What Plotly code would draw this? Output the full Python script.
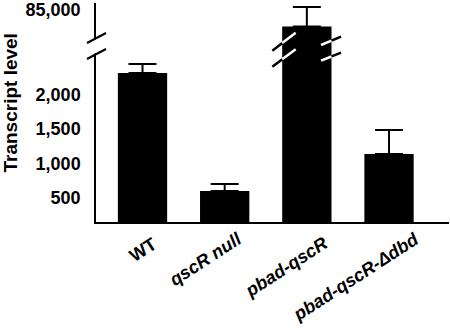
import plotly.graph_objects as go

# ---- data ----
categories = ["WT", "qscR null", "pbad-qscR", "pbad-qscR-Δdbd"]
label_texts = ["<b>WT</b>", "<b><i>qscR null</i></b>", "<b><i>pbad-qscR</i></b>", "<b><i>pbad-qscR-Δdbd</i></b>"]
values = [2320, 595, 81700, 1137]
errors = [135, 103, 3900, 350]
lower_ticks = [500, 1000, 1500, 2000]
upper_ticks = [85000]

# ---- style ----
FONT = "Liberation Sans, Arial, Helvetica, sans-serif"
label_xshift = [20, 24, 27, 36]
label_yshift = [-1, 4, 0, 4]

W, H = 450, 329
ML, MR, MT, MB = 96, 1, 3, 107
PW = W - ML - MR
PH = H - MT - MB


def py(pix):
    return (H - MB - pix) / PH


def px(pix):
    return (pix - ML) / PW


fig = go.Figure()
err = dict(type="data", array=errors, arrayminus=[0] * len(errors), symmetric=False,
           color="black", thickness=2, width=14)
fig.add_trace(go.Bar(x=categories, y=values, width=0.6, marker=dict(color="black", line=dict(width=0)),
                     error_y=err, xaxis="x", yaxis="y", showlegend=False, hoverinfo="skip"))
fig.add_trace(go.Bar(x=categories, y=values, width=0.6, marker=dict(color="black", line=dict(width=0)),
                     error_y=err, xaxis="x2", yaxis="y2", showlegend=False, hoverinfo="skip"))

tickfont = dict(family=FONT, size=18, color="black", weight="bold")
fig.update_layout(
    width=W, height=H,
    margin=dict(l=ML, r=MR, t=MT, b=MB),
    paper_bgcolor="white", plot_bgcolor="white",
    xaxis=dict(domain=[0, 1], range=[-0.566, 3.730], showline=True, linewidth=2, linecolor="black",
               showticklabels=False, ticks="", showgrid=False, zeroline=False, anchor="y"),
    xaxis2=dict(domain=[0, 1], matches="x", anchor="y2", visible=False),
    yaxis=dict(domain=[0, 0.8037], range=[141.5, 2717], tickvals=lower_ticks, tickformat=",d",
               showline=True, linewidth=1.5, linecolor="black", ticks="", showgrid=False,
               zeroline=False, tickfont=tickfont, ticklabelstandoff=10, anchor="x"),
    yaxis2=dict(domain=[0.795, 1], range=[77420, 86400], tickvals=upper_ticks, tickformat=",d",
                showline=True, linewidth=1.5, linecolor="black", ticks="", showgrid=False,
                zeroline=False, tickfont=tickfont, ticklabelstandoff=10, anchor="x2"),
)

shapes = []
# gap in y-axis line
shapes.append(dict(type="rect", xref="paper", yref="paper", x0=px(93.5), x1=px(98.5),
                   y0=py(53.5), y1=py(39.5), fillcolor="white", line=dict(width=0), layer="above"))
# axis break slashes
for (a, b, c, d) in [(87, 43, 106, 33), (87, 59, 106, 49)]:
    shapes.append(dict(type="line", xref="paper", yref="paper", x0=px(a), y0=py(b), x1=px(c), y1=py(d),
                       line=dict(color="black", width=2), layer="above"))


# bar break slashes (data x relative to the pbad-qscR bar, paper y)
def dx(pix):
    return (pix - 142.5) / 82.17


bar_slashes = [
    (272.3, 50.7, 295.7, 32.7, "L"),
    (272.3, 66.7, 295.7, 49.3, "L"),
    (321.0, 45.0, 341.0, 36.7, "R"),
    (321.0, 60.7, 341.0, 52.7, "R"),
]
for (a, b, c, d, side) in bar_slashes:
    shapes.append(dict(type="line", xref="x", yref="paper", x0=dx(a), y0=py(b), x1=dx(c), y1=py(d),
                       line=dict(color="black", width=2.5), layer="above"))
    edge = 1.7 if side == "L" else 2.3
    t = (edge - dx(a)) / (dx(c) - dx(a))
    ye = b + t * (d - b)
    if side == "L":
        shapes.append(dict(type="line", xref="x", yref="paper", x0=edge, y0=py(ye), x1=dx(c), y1=py(d),
                           line=dict(color="white", width=2.5), layer="above"))
    else:
        shapes.append(dict(type="line", xref="x", yref="paper", x0=dx(a), y0=py(b), x1=edge, y1=py(ye),
                           line=dict(color="white", width=2.5), layer="above"))
fig.update_layout(shapes=shapes)

annotations = []
for cat, txt, xs, ys in zip(categories, label_texts, label_xshift, label_yshift):
    annotations.append(dict(x=cat, xref="x", y=py(230), yref="paper", text=txt, showarrow=False,
                            textangle=-33, xanchor="right", yanchor="top", xshift=xs, yshift=ys,
                            font=dict(family=FONT, size=18, color="black")))
annotations.append(dict(x=px(10), y=py(103.5), xref="paper", yref="paper", text="<b>Transcript level</b>",
                        showarrow=False, textangle=-90, xanchor="center", yanchor="middle",
                        font=dict(family=FONT, size=19, color="black")))
fig.update_layout(annotations=annotations)

fig.write_html("out.html", config={"displayModeBar": False},
               post_script="document.body.style.margin='0';document.body.style.padding='0';")
